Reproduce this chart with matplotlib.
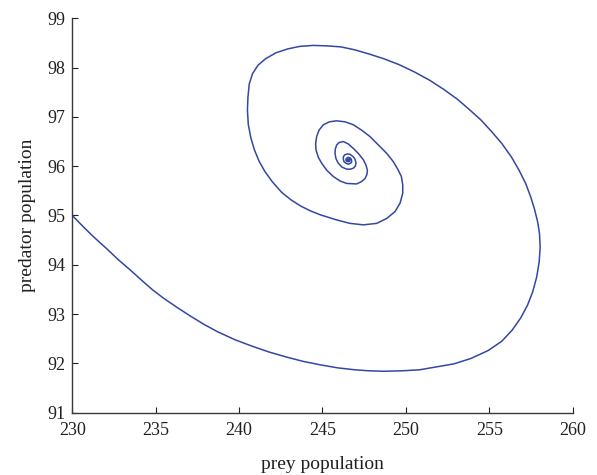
"""Predator-prey phase portrait: spiral towards the equilibrium."""

import matplotlib

matplotlib.use("Agg")

import matplotlib.pyplot as plt

# trajectory (prey, predator)
prey = [
    # outer sweep, lower part
    230.00, 230.72, 231.33, 232.05, 232.77, 233.49, 234.21, 234.82, 235.44,
    236.26, 237.08, 237.90, 238.72, 239.75, 240.77, 241.80, 242.82, 243.85,
    244.87, 245.90, 246.93, 247.75, 248.67, 249.80, 250.82, 251.85, 252.88,
    253.90, 254.93, 255.75, 256.36, 256.88, 257.29, 257.60, 257.84, 257.99,
    258.05, 258.01, 257.90, 257.70, 257.49, 257.18, 256.78, 256.32, 255.75,
    255.17, 254.52, 253.80, 253.08, 252.26, 251.44, 250.52, 249.59, 248.67,
    247.75, 246.93, 246.11, 245.29, 244.46, 243.64, 242.93, 242.21, 241.59,
    241.14, 240.81, 240.61, 240.53, 240.50,
    # first inner loop
    240.55, 240.70, 240.92, 241.20, 241.55, 242.00, 242.55, 243.10, 243.70,
    244.30, 244.90, 245.85, 246.65, 247.45, 248.25, 248.85, 249.35, 249.65,
    249.81, 249.81, 249.73, 249.54, 249.25, 248.85, 248.35, 247.85, 247.35,
    246.85, 246.35, 245.85, 245.41, 245.05, 244.79, 244.65, 244.59, 244.61,
    244.75, 244.95,
    # second inner loop
    245.25, 245.65, 246.05, 246.45, 247.05, 247.35, 247.55, 247.67, 247.69,
    247.61, 247.45, 247.17, 246.85, 246.55, 246.25, 245.99, 245.85, 245.77,
    245.75, 245.81, 245.95,
    # innermost turns
    246.17, 246.45, 246.69, 246.85, 246.97, 247.01, 246.95, 246.85, 246.65,
    246.49, 246.33, 246.25, 246.25, 246.29, 246.41, 246.55, 246.69, 246.75,
    246.73, 246.65, 246.53, 246.41, 246.41, 246.53, 246.63, 246.63, 246.53,
    246.49, 246.57, 246.55,
]
predator = [
    95.00, 94.75, 94.55, 94.33, 94.10, 93.89, 93.67, 93.49, 93.33,
    93.14, 92.96, 92.79, 92.64, 92.48, 92.35, 92.23, 92.13, 92.04,
    91.97, 91.91, 91.87, 91.85, 91.84, 91.85, 91.87, 91.93, 91.99,
    92.10, 92.26, 92.45, 92.67, 92.92, 93.18, 93.45, 93.75, 94.06,
    94.36, 94.63, 94.87, 95.14, 95.37, 95.65, 95.92, 96.19, 96.46,
    96.69, 96.93, 97.15, 97.36, 97.56, 97.74, 97.91, 98.06, 98.18,
    98.28, 98.36, 98.42, 98.44, 98.45, 98.43, 98.38, 98.30, 98.18,
    98.05, 97.88, 97.67, 97.40, 97.14,
    96.85, 96.58, 96.33, 96.10, 95.89, 95.68, 95.47, 95.32, 95.19,
    95.09, 95.01, 94.91, 94.84, 94.81, 94.84, 94.94, 95.08, 95.25,
    95.45, 95.62, 95.79, 95.92, 96.09, 96.26, 96.43, 96.60, 96.73,
    96.84, 96.90, 96.92, 96.90, 96.84, 96.73, 96.60, 96.46, 96.33,
    96.18, 96.06,
    95.92, 95.79, 95.70, 95.65, 95.64, 95.69, 95.75, 95.84, 95.92,
    96.02, 96.13, 96.25, 96.36, 96.45, 96.50, 96.48, 96.43, 96.35,
    96.26, 96.15, 96.06,
    95.98, 95.94, 95.94, 95.96, 96.00, 96.07, 96.14, 96.19, 96.24,
    96.25, 96.23, 96.19, 96.14, 96.09, 96.06, 96.04, 96.06, 96.09,
    96.14, 96.17, 96.18, 96.15, 96.11, 96.09, 96.10, 96.14, 96.14,
    96.12, 96.12, 96.13,
]
x_ticks = [230, 235, 240, 245, 250, 255, 260]
y_ticks = [91, 92, 93, 94, 95, 96, 97, 98, 99]

plt.rcParams["font.family"] = ["Liberation Serif", "DejaVu Serif"]

fig = plt.figure(figsize=(5.97, 4.75), dpi=100)
ax = fig.add_axes([0.1211, 0.1312, 0.8382, 0.8303])

ax.plot(prey, predator, lw=1.1, color="#3347a3", solid_joinstyle="round")

ax.set_xlim(230, 260)
ax.set_ylim(91, 99)
ax.set_xticks(x_ticks)
ax.set_yticks(y_ticks)
ax.tick_params(direction="in", length=4, width=0.8, labelsize=13, colors="#231f20")
ax.tick_params(axis="x", pad=7)
ax.tick_params(axis="y", pad=5)
ax.spines["top"].set_visible(False)
ax.spines["right"].set_visible(False)
for s in ("left", "bottom"):
    ax.spines[s].set_linewidth(1.0)
    ax.spines[s].set_color("#3a3a3a")

ax.set_xlabel("prey population", fontsize=14, color="#231f20", labelpad=12)
ax.set_ylabel("predator population", fontsize=14, color="#231f20", labelpad=8)

fig.savefig("out.png", dpi=100)
plt.close(fig)
